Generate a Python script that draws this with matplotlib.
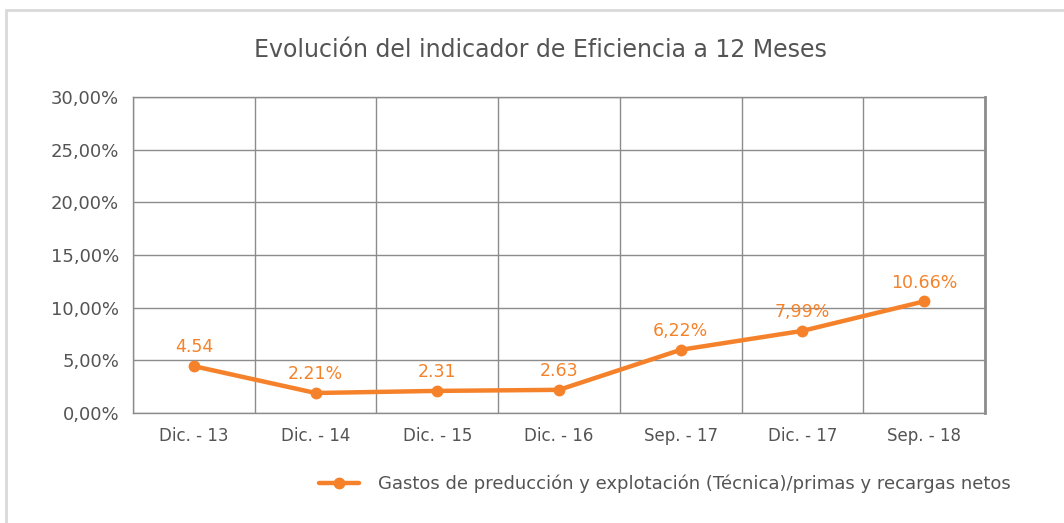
import numpy as np
import matplotlib
matplotlib.use("Agg")
import matplotlib.pyplot as plt
from matplotlib.patches import Rectangle

plt.rcParams["font.family"] = ["DejaVu Sans"]

TEXT = "#545454"
ORANGE = "#F5822A"
GRID = "#8C8C8C"

# data
categories = ["Dic. - 13", "Dic. - 14", "Dic. - 15", "Dic. - 16",
              "Sep. - 17", "Dic. - 17", "Sep. - 18"]
values = [4.45, 1.9, 2.1, 2.2, 6.0, 7.8, 10.6]
point_labels = ["4.54", "2.21%", "2.31", "2.63", "6,22%", "7,99%", "10.66%"]
yticks = [0, 5, 10, 15, 20, 25, 30]
ytick_labels = ["0,00%", "5,00%", "10,00%", "15,00%", "20,00%", "25,00%", "30,00%"]
series_name = "Gastos de preducción y explotación (Técnica)/primas y recargas netos"

fig = plt.figure(figsize=(10.64, 5.23), dpi=100)

# light outer frame of the chart
W, H = 1064, 523
fig.patches.append(Rectangle((6 / W, -0.1), 1.2, (H - 10) / H + 0.1,
                             transform=fig.transFigure, fill=False,
                             edgecolor="#D9D9D9", linewidth=2))

ax = fig.add_axes([0.125, 0.2103, 0.8008, 0.6042])
x = np.arange(len(categories))

ax.plot(x, values, color=ORANGE, linewidth=3.2, marker="o", markersize=7.5,
        solid_capstyle="round", zorder=3, label=series_name)
for xi, v, lab in zip(x, values, point_labels):
    ax.annotate(lab, (xi, v), xytext=(0, 7), textcoords="offset points",
                ha="center", va="bottom", color=ORANGE, fontsize=12.5)

ax.set_xlim(-0.5, len(categories) - 0.5)
ax.set_ylim(0, 30)
ax.set_yticks(yticks)
ax.set_yticklabels(ytick_labels, fontsize=13)
ax.set_xticks(x)
ax.set_xticklabels(categories, fontsize=12)
ax.set_xticks(np.arange(len(categories) + 1) - 0.5, minor=True)
ax.grid(True, axis="y", color=GRID, linewidth=1)
ax.grid(True, axis="x", which="minor", color=GRID, linewidth=1)
ax.tick_params(axis="both", which="both", length=0, colors=TEXT)
ax.tick_params(axis="x", pad=10)
ax.tick_params(axis="y", pad=10)
for s in ax.spines.values():
    s.set_color(GRID)
    s.set_linewidth(1)
ax.spines["right"].set_linewidth(2)
ax.set_axisbelow(True)

fig.text(0.5075, 0.904, "Evolución del indicador de Eficiencia a 12 Meses",
         ha="center", va="center", fontsize=17, color=TEXT)

fig.legend(loc="center", bbox_to_anchor=(0.625, 0.075), frameon=False,
           fontsize=13, labelcolor=TEXT, handlelength=2.2, handletextpad=1.1)

fig.savefig("out.png", dpi=100)
